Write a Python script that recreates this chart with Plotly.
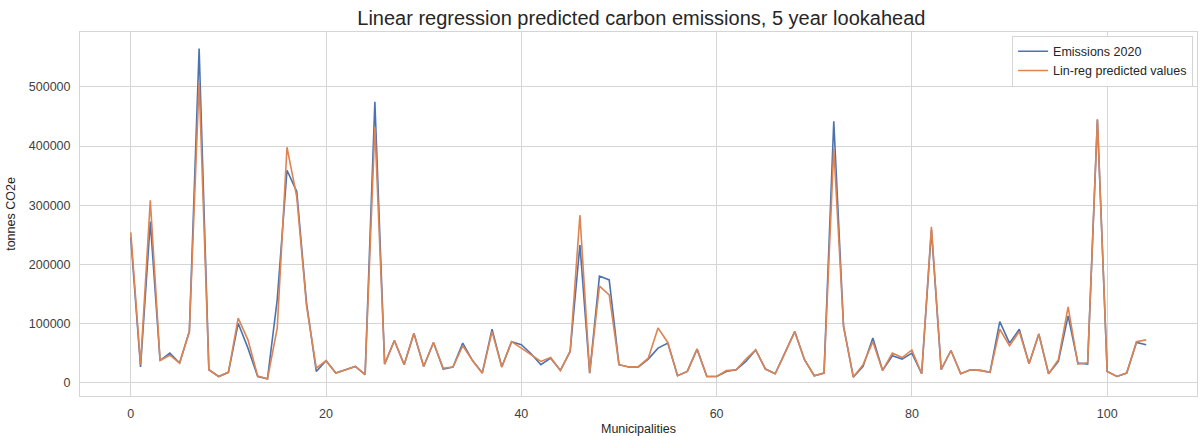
import plotly.graph_objects as go

# Municipality index and emissions (tonnes CO2e)
municipalities = list(range(105))

emissions_2020 = [
    245000, 26000, 272000, 37000, 49600, 32800, 86000, 565000, 21500, 10000,
    17000, 100000, 58000, 10000, 6000, 140000, 359000, 323000, 134000, 18600,
    36700, 15800, 21500, 27000, 13000, 475000, 31000, 71000, 30000, 83000,
    27000, 67600, 22600, 26000, 66500, 37000, 15800, 90000, 26000, 69000,
    63700, 48500, 30000, 41000, 20300, 52400, 232600, 15800, 180000, 173500,
    30000, 26000, 26000, 39500, 58000, 66500, 11300, 18600, 56300, 10000,
    10000, 18600, 21500, 35500, 55000, 22600, 14700, 49600, 86000, 38300,
    11300, 15800, 442000, 94600, 9000, 27000, 75000, 20300, 45000, 39500,
    49600, 14700, 258000, 21500, 54000, 14700, 21500, 20300, 17000, 103000,
    66500, 90000, 31600, 82000, 14700, 35500, 112700, 32800, 31000, 445000,
    18600, 10000, 15800, 67600, 63700,
]

linreg_predicted = [
    254000, 30000, 308000, 37000, 46000, 32800, 86000, 508000, 21500, 10000,
    17000, 108800, 72000, 11000, 6000, 92000, 398000, 314000, 130000, 24000,
    37000, 15800, 21500, 27000, 13000, 432000, 31000, 71000, 30000, 83000,
    27000, 67600, 24000, 26000, 62000, 37000, 15800, 86000, 26000, 69000,
    58000, 47000, 35500, 42000, 20300, 52400, 283000, 15800, 163000, 148000,
    30000, 26000, 27000, 41000, 92000, 67600, 11300, 18600, 56300, 10000,
    10000, 20000, 21500, 39500, 55000, 22600, 14700, 49600, 86000, 38300,
    11300, 15800, 396000, 94600, 9000, 30000, 69000, 20300, 49600, 42000,
    55000, 14700, 263500, 21500, 54000, 14700, 21500, 20300, 17000, 90000,
    62000, 86000, 31600, 82000, 14700, 38300, 128000, 31000, 33000, 445000,
    18600, 10000, 15800, 69000, 72000,
]

x_ticks = [0, 20, 40, 60, 80, 100]
y_ticks = [0, 100000, 200000, 300000, 400000, 500000]

fig = go.Figure()
fig.add_trace(go.Scatter(
    x=municipalities, y=emissions_2020, mode="lines", name="Emissions 2020",
    line=dict(color="#4c72b0", width=1.6),
))
fig.add_trace(go.Scatter(
    x=municipalities, y=linreg_predicted, mode="lines", name="Lin-reg predicted values",
    line=dict(color="#dd8452", width=1.6),
))

axis_common = dict(
    showgrid=True, gridcolor="#d5d5d5", gridwidth=1,
    showline=True, linecolor="#d5d5d5", linewidth=1, mirror=True,
    zeroline=False, ticks="", ticklabelstandoff=6, automargin=False,
    tickfont=dict(size=12.5, color="#404040"),
)

fig.update_layout(
    width=1201, height=436,
    margin=dict(l=80, r=4, t=32, b=40, autoexpand=False),
    paper_bgcolor="white", plot_bgcolor="white",
    font=dict(family="Liberation Sans, Arial, sans-serif", color="#262626"),
    title=dict(
        text="Linear regression predicted carbon emissions, 5 year lookahead",
        x=0.534, xanchor="center", y=0.958, yanchor="middle",
        font=dict(size=20, color="#262626"),
    ),
    xaxis=dict(
        axis_common, range=[-5.2, 109.2], tickvals=x_ticks,
        title=dict(text="Municipalities", font=dict(size=12.5), standoff=6),
    ),
    yaxis=dict(
        axis_common, range=[-23000, 593000], tickvals=y_ticks, tickformat="d",
        title=dict(text="tonnes CO2e", font=dict(size=12.5), standoff=10),
    ),
    legend=dict(
        x=0.9965, y=0.99, xanchor="right", yanchor="top",
        bgcolor="rgba(255,255,255,0.9)", bordercolor="#d5d5d5", borderwidth=1,
        font=dict(size=12.5, color="#262626"), tracegroupgap=0,
    ),
    showlegend=True,
)

fig.write_html("out.html")
